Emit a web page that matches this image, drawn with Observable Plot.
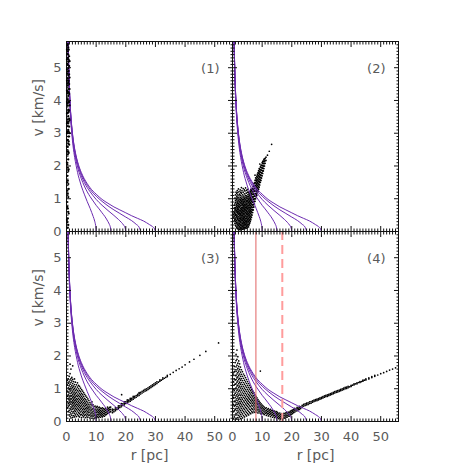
<!DOCTYPE html>
<html><head><meta charset="utf-8">
<script src="https://cdn.jsdelivr.net/npm/d3@7"></script>
<script src="https://cdn.jsdelivr.net/npm/@observablehq/plot@0.6"></script>
<style>
body{margin:0;background:#fff}#chart{width:463px;height:463px}
g[aria-label="ylabel"] text{letter-spacing:1.2px}
g[aria-label="xlabel"] text{letter-spacing:0.6px}
</style>
</head><body><div id="chart"></div>
<script>
// ---- data ----
const panelNames = ["(1)", "(2)", "(3)", "(4)"];
const panelCols = [0, 1, 0, 1];
const panelRows = [0, 0, 1, 1];
const xMajorTicks = [0, 10, 20, 30, 40, 50];
const yMajorTicks = [0, 1, 2, 3, 4, 5];
const xLabel = "r [pc]";
const yLabel = "v [km/s]";

// purple curves: flat [r, v, r, v, ...], each ends at v = 0 at its R
const curveR10 = [0.55,5.77, 0.6,5.51, 0.7,5.07, 0.8,4.72, 1,4.17, 1.25,3.68, 1.5,3.31, 2,2.78, 2.5,2.41, 3,2.13, 3.5,1.90, 4,1.70, 4.5,1.54, 5,1.39, 6,1.14, 7,0.91, 8,0.70, 8.5,0.58, 9,0.46, 9.5,0.32, 9.8,0.20, 9.95,0.10, 10,0];
const curveR15 = [0.55,5.82, 0.6,5.57, 0.7,5.13, 0.8,4.79, 1,4.25, 1.25,3.77, 1.5,3.41, 2,2.90, 2.5,2.54, 3,2.27, 4,1.88, 5,1.61, 6,1.39, 7,1.21, 8,1.06, 9,0.93, 10,0.80, 11,0.69, 12,0.57, 13,0.45, 14,0.30, 14.5,0.21, 14.85,0.11, 15,0];
const curveR20 = [0.55,5.85, 0.6,5.59, 0.7,5.17, 0.8,4.82, 1,4.29, 1.25,3.81, 1.5,3.46, 2,2.95, 2.5,2.60, 3,2.34, 4,1.97, 5,1.70, 6,1.50, 7,1.34, 8,1.21, 10,0.98, 12,0.80, 14,0.64, 16,0.49, 17.5,0.37, 18.5,0.28, 19.3,0.19, 19.8,0.10, 20,0];
const curveR25 = [0.55,5.87, 0.6,5.61, 0.7,5.18, 0.8,4.84, 1,4.31, 1.25,3.84, 1.5,3.48, 2,2.98, 2.5,2.64, 3,2.38, 4,2.02, 5,1.76, 6,1.57, 7,1.41, 8,1.28, 10,1.08, 12,0.92, 14,0.78, 16,0.66, 18,0.55, 20,0.44, 22,0.33, 23.5,0.22, 24.5,0.13, 25,0];
const curveR30 = [0.55,5.88, 0.6,5.62, 0.7,5.20, 0.8,4.85, 1,4.33, 1.25,3.85, 1.5,3.50, 2,3.01, 2.5,2.66, 3,2.41, 4,2.05, 5,1.80, 6,1.61, 7,1.46, 8,1.33, 10,1.14, 12,0.98, 14,0.86, 16,0.75, 18,0.66, 20,0.57, 22,0.48, 24,0.40, 26,0.32, 28,0.21, 29,0.15, 29.7,0.08, 30,0];
const curveRadii = [10, 15, 20, 25, 30];

// scatter clouds: each inner list is [r, v1, v2, ...]
const cloud1 = [
[0.15,5.55,5.25,4.95,4.6,4.3,3.95,3.6,3.3,3.0,2.6,2.1,1.5,0.9,0.35],
[0.3,5.68,5.42,5.12,4.82,4.52,4.22,3.9,3.62,3.34,3.05,2.78,2.45,2.05,1.7,1.25,0.75,0.28],
[0.45,5.72,5.5,5.3,5.08,4.88,4.66,4.45,4.26,4.04,3.84,3.63,3.42,3.22,3.0,2.8,2.58,2.35,1.95,1.55,1.15,0.7,0.4,0.12],
[0.6,5.62,5.4,5.18,4.98,4.76,4.55,4.35,4.14,3.94,3.72,3.52,3.3,3.1,2.9,2.68,2.45,2.2,1.85,1.45,1.05,0.6,0.2],
[0.75,5.55,5.25,4.9,4.6,4.25,3.95,3.65,3.35,3.05,2.75,2.4,1.9,1.3,0.55],
[0.9,5.35,5.05,4.8,4.5,4.2,3.95,3.7,3.45,3.2,2.9,2.65],
[1.05,5.2,4.7,4.35,3.85,3.4,3.0]
];
const cloud2 = [
[0.4,0.44,0.53,0.61],
[0.6,0.33,0.47,0.58,0.72,0.8],
[0.8,0.25,0.36,0.41,0.55,0.63,0.69,0.84,1.02],
[1.0,0.19,0.3,0.38,0.49,0.52,0.66,0.73,0.88,0.95,1.12],
[1.2,0.16,0.24,0.35,0.43,0.57,0.61,0.7,0.79,0.9,1.02,1.2],
[1.4,0.12,0.27,0.33,0.46,0.51,0.64,0.76,0.83,0.97,1.08,1.16],
[1.6,0.09,0.2,0.29,0.4,0.48,0.59,0.67,0.74,0.86,0.93,1.05,1.25],
[1.8,0.14,0.23,0.37,0.42,0.55,0.62,0.71,0.8,0.89,1.0,1.12,1.19],
[2.0,0.07,0.18,0.26,0.34,0.45,0.53,0.6,0.68,0.77,0.85,0.96,1.03,1.3],
[2.2,0.11,0.21,0.3,0.39,0.47,0.57,0.65,0.73,0.81,0.92,1.09,1.22],
[2.4,0.06,0.15,0.24,0.33,0.41,0.5,0.56,0.63,0.75,0.83,0.9,0.99,1.14],
[2.6,0.1,0.19,0.28,0.36,0.44,0.52,0.6,0.69,0.78,0.87,0.94,1.04,1.27],
[2.8,0.05,0.13,0.22,0.31,0.4,0.48,0.55,0.64,0.71,0.8,0.88,0.97,1.1,1.2],
[3.0,0.09,0.17,0.26,0.35,0.42,0.5,0.59,0.67,0.74,0.84,0.91,1.01,1.17,1.34],
[3.2,0.12,0.2,0.29,0.37,0.46,0.54,0.62,0.7,0.79,0.86,0.95,1.06,1.25],
[3.4,0.07,0.16,0.24,0.33,0.41,0.49,0.57,0.65,0.73,0.82,0.9,0.98,1.12],
[3.6,0.11,0.19,0.28,0.36,0.44,0.53,0.61,0.69,0.77,0.85,0.93,1.03,1.2,1.31],
[3.8,0.08,0.14,0.23,0.31,0.4,0.47,0.56,0.63,0.72,0.8,0.89,0.97,1.08],
[4.0,0.12,0.2,0.27,0.35,0.43,0.51,0.6,0.68,0.75,0.83,0.92,1.01,1.15,1.27],
[4.2,0.09,0.17,0.25,0.33,0.38,0.46,0.55,0.64,0.71,0.79,0.87,0.96,1.05,1.24],
[4.4,0.13,0.22,0.3,0.39,0.48,0.58,0.66,0.74,0.81,0.9,0.99,1.1,1.33],
[4.6,0.1,0.18,0.27,0.34,0.42,0.52,0.61,0.69,0.77,0.86,0.94,1.04,1.17],
[4.8,0.15,0.23,0.31,0.4,0.47,0.56,0.64,0.73,0.82,0.91,1.0,1.09,1.26],
[5.0,0.11,0.2,0.29,0.37,0.45,0.53,0.6,0.7,0.78,0.87,0.95,1.06,1.2],
[5.2,0.17,0.26,0.33,0.42,0.5,0.58,0.67,0.75,0.84,0.92,1.01,1.13,1.29],
[5.4,0.14,0.22,0.31,0.39,0.48,0.55,0.63,0.72,0.8,0.89,0.98,1.07,1.18],
[5.6,0.2,0.28,0.36,0.45,0.53,0.61,0.69,0.78,0.86,0.94,1.03,1.12,1.22],
[5.8,0.25,0.34,0.43,0.5,0.59,0.66,0.74,0.83,0.91,1.0,1.09,1.17],
[6.0,0.3,0.39,0.47,0.56,0.64,0.72,0.8,0.88,0.97,1.05,1.14,1.23],
[6.2,0.36,0.45,0.54,0.61,0.69,0.78,0.86,0.95,1.02,1.11,1.19,1.28],
[6.4,0.43,0.51,0.6,0.67,0.75,0.84,0.92,1.0,1.08,1.16,1.25,1.31],
[6.6,0.5,0.58,0.66,0.74,0.82,0.9,0.98,1.06,1.14,1.22,1.3],
[6.8,0.58,0.66,0.73,0.81,0.89,0.97,1.05,1.13,1.21,1.29,1.37],
[7.0,0.66,0.74,0.82,0.9,0.98,1.06,1.14,1.22,1.3,1.38],
[7.2,0.75,0.83,0.91,0.99,1.07,1.15,1.23,1.31,1.39,1.46],
[7.4,0.84,0.92,1.0,1.08,1.16,1.24,1.32,1.4,1.48],
[7.6,0.92,1.0,1.08,1.16,1.24,1.32,1.4,1.49,1.56,1.72],
[7.8,1.0,1.08,1.16,1.24,1.32,1.41,1.49,1.57,1.64],
[8.0,1.05,1.14,1.22,1.3,1.38,1.46,1.55,1.63],
[8.2,1.1,1.19,1.27,1.35,1.43,1.52,1.6,1.69],
[8.4,1.16,1.25,1.33,1.41,1.49,1.58,1.66,1.75],
[8.6,1.23,1.31,1.39,1.47,1.55,1.64,1.72,1.8],
[8.8,1.29,1.37,1.45,1.53,1.61,1.7,1.78,1.86],
[9.0,1.35,1.44,1.52,1.6,1.68,1.76,1.84,1.92],
[9.2,1.42,1.5,1.58,1.66,1.74,1.82,1.9,2.06],
[9.4,1.5,1.57,1.65,1.73,1.81,1.89,1.97],
[9.6,1.56,1.64,1.72,1.8,1.88,1.96,2.03],
[9.8,1.63,1.71,1.79,1.87,1.95,2.02],
[10.0,1.7,1.78,1.86,1.94,2.02,2.1],
[10.2,1.77,1.85,1.93,2.01,2.08,2.14],
[10.4,1.85,1.93,2.0,2.08,2.15],
[10.6,1.92,2.0,2.07,2.14,2.2],
[10.8,2.0,2.08,2.15,2.22],
[11.0,2.08,2.16,2.23],
[11.3,2.17,2.27],
[11.8,2.33],
[12.4,2.45],
[13.2,2.66]
];
const cloud3 = [
[0.3,0.42,0.6,0.77,0.93,1.12,1.26],
[0.6,0.3,0.45,0.55,0.69,0.81,0.9,1.03,1.17,1.3],
[0.9,0.2,0.34,0.49,0.58,0.66,0.75,0.87,0.98,1.09,1.21,1.38],
[1.2,0.16,0.28,0.4,0.53,0.62,0.71,0.8,0.93,1.01,1.14,1.27,1.46,1.75],
[1.5,0.11,0.23,0.36,0.45,0.57,0.67,0.77,0.86,0.96,1.06,1.19,1.31,1.6],
[1.8,0.19,0.31,0.42,0.51,0.6,0.7,0.79,0.89,1.0,1.1,1.24,1.35],
[2.1,0.13,0.26,0.38,0.47,0.56,0.64,0.74,0.83,0.93,1.04,1.16,1.29,1.7],
[2.4,0.18,0.3,0.41,0.5,0.59,0.68,0.77,0.87,0.97,1.08,1.22],
[2.7,0.14,0.25,0.35,0.45,0.54,0.63,0.72,0.81,0.9,1.01,1.13,1.3],
[3.0,0.2,0.31,0.4,0.49,0.58,0.66,0.75,0.85,0.95,1.06,1.2],
[3.35,0.15,0.26,0.36,0.45,0.53,0.62,0.7,0.79,0.89,0.99,1.12],
[3.7,0.21,0.32,0.41,0.5,0.58,0.67,0.76,0.84,0.94,1.05,1.18],
[4.05,0.17,0.27,0.37,0.46,0.54,0.62,0.71,0.8,0.9,1.0,1.1],
[4.4,0.14,0.24,0.33,0.42,0.5,0.58,0.67,0.76,0.85,0.95,1.07],
[4.75,0.2,0.29,0.38,0.46,0.55,0.63,0.72,0.81,0.91,1.02],
[5.1,0.12,0.22,0.32,0.41,0.5,0.59,0.68,0.77,0.86,0.97],
[5.45,0.18,0.27,0.36,0.45,0.54,0.63,0.72,0.82,0.93],
[5.8,0.14,0.23,0.31,0.4,0.49,0.58,0.67,0.77,0.88],
[6.15,0.19,0.28,0.36,0.45,0.54,0.62,0.71,0.83],
[6.5,0.12,0.22,0.31,0.4,0.49,0.57,0.67,0.78],
[6.85,0.17,0.26,0.35,0.43,0.52,0.62,0.74],
[7.2,0.13,0.22,0.3,0.39,0.47,0.57,0.69],
[7.55,0.18,0.27,0.35,0.43,0.52,0.64],
[7.9,0.11,0.2,0.29,0.38,0.47,0.58],
[8.25,0.16,0.24,0.33,0.42,0.53],
[8.6,0.1,0.19,0.28,0.37,0.48,0.6],
[8.95,0.15,0.23,0.31,0.4,0.51],
[9.3,0.09,0.18,0.26,0.35,0.45],
[9.65,0.13,0.21,0.29,0.38,0.47],
[10.0,0.11,0.19,0.27,0.34,0.43],
[10.35,0.15,0.22,0.3,0.38,0.46],
[10.7,0.12,0.2,0.27,0.34,0.42],
[11.05,0.16,0.23,0.3,0.37,0.44],
[11.4,0.13,0.2,0.27,0.34,0.41],
[11.75,0.17,0.24,0.31,0.39],
[12.1,0.14,0.21,0.28,0.35,0.42],
[12.45,0.18,0.25,0.32,0.39],
[12.8,0.16,0.23,0.3,0.37],
[13.15,0.2,0.27,0.34,0.41],
[13.5,0.22,0.29,0.36],
[13.85,0.25,0.31,0.38,0.44],
[14.2,0.27,0.34,0.4],
[14.55,0.29,0.36,0.43],
[14.9,0.3,0.37,0.44],
[15.5,0.27,0.33,0.38],[16,0.3,0.36],[16.5,0.33,0.38,0.42],[17,0.37,0.42],[17.5,0.39,0.44,0.48],
[18,0.43,0.48],[18.5,0.45,0.5,0.55],[18.6,0.82],[19,0.49,0.54],[19.5,0.51,0.56,0.6],[20,0.55,0.6],
[20.5,0.57,0.62,0.66],[21,0.6,0.65],[21.5,0.62,0.67,0.71],[22,0.66,0.71],[22.5,0.68,0.73,0.77],
[23,0.72,0.77],[23.5,0.74,0.79],[24,0.78,0.83],[24.5,0.8,0.85,0.88],[25,0.84,0.89],
[25.5,0.87,0.92],[26,0.9,0.95],[26.5,0.93,0.98],[27,0.95,1.0],[27.5,0.98,1.03],
[28,1.01,1.06],[28.5,1.04,1.09],[29,1.07,1.12],[29.5,1.1,1.15],[30,1.13,1.18],
[30.5,1.16,1.21],[31,1.2],[31.5,1.23,1.27],[32,1.26],[32.5,1.29,1.33],[33,1.32],
[33.5,1.35],[34,1.37,1.41],[35,1.44],[36,1.5],[37,1.56],[38,1.61],[39,1.66],
[40,1.73],[41.5,1.82],[43,1.9],[45,2.02],[47,2.14],[51.3,2.4]
];
const cloud4 = [
[0.3,0.08,0.3,0.52,0.74,0.98,1.22,1.45],
[0.6,0.14,0.33,0.47,0.62,0.81,0.95,1.12,1.3,1.52,1.68],
[0.9,0.05,0.2,0.36,0.49,0.6,0.73,0.86,1.0,1.14,1.27,1.41,1.58,1.8],
[1.2,0.1,0.25,0.4,0.53,0.65,0.78,0.9,1.03,1.15,1.28,1.4,1.53,1.67,1.86,2.05],
[1.5,0.07,0.2,0.33,0.46,0.58,0.7,0.82,0.95,1.08,1.2,1.33,1.45,1.58,1.72,1.9,2.18],
[1.8,0.12,0.27,0.39,0.52,0.63,0.75,0.87,0.99,1.11,1.24,1.36,1.49,1.62,1.78,1.98],
[2.1,0.06,0.19,0.32,0.44,0.56,0.68,0.8,0.92,1.04,1.16,1.29,1.41,1.54,1.68,1.85],
[2.4,0.14,0.26,0.38,0.5,0.61,0.72,0.84,0.96,1.08,1.2,1.32,1.45,1.59,1.76],
[2.7,0.09,0.21,0.33,0.45,0.56,0.67,0.79,0.9,1.02,1.14,1.26,1.38,1.51,1.66],
[3.0,0.16,0.28,0.4,0.51,0.62,0.73,0.84,0.96,1.07,1.19,1.31,1.44,1.58],
[3.35,0.11,0.23,0.35,0.46,0.57,0.68,0.79,0.9,1.01,1.13,1.25,1.38,1.52],
[3.7,0.18,0.3,0.41,0.52,0.63,0.74,0.85,0.96,1.07,1.19,1.32,1.45],
[4.05,0.14,0.26,0.37,0.48,0.59,0.7,0.8,0.91,1.02,1.14,1.26,1.4],
[4.4,0.21,0.32,0.43,0.54,0.65,0.75,0.86,0.97,1.09,1.21,1.34],
[4.75,0.17,0.28,0.39,0.5,0.6,0.7,0.81,0.92,1.04,1.16,1.28],
[5.1,0.24,0.35,0.46,0.56,0.66,0.76,0.87,0.98,1.1,1.22],
[5.45,0.2,0.31,0.42,0.52,0.62,0.72,0.82,0.93,1.04,1.16],
[5.8,0.27,0.38,0.48,0.58,0.68,0.78,0.88,0.99,1.1],
[6.15,0.24,0.35,0.45,0.55,0.64,0.74,0.84,0.94,1.04],
[6.5,0.3,0.4,0.5,0.6,0.69,0.79,0.89,0.98],
[6.85,0.27,0.37,0.47,0.56,0.65,0.75,0.85,0.93],
[7.2,0.32,0.42,0.51,0.6,0.7,0.79,0.88],
[7.55,0.28,0.38,0.47,0.56,0.65,0.74,0.82],
[7.9,0.33,0.42,0.51,0.6,0.69,0.77],
[8.25,0.29,0.38,0.47,0.56,0.64,0.72],
[8.6,0.26,0.35,0.43,0.52,0.6,0.67],
[8.95,0.3,0.38,0.47,0.55,0.62],
[9.3,0.26,0.34,0.43,0.51,0.58],
[9.4,1.54],
[9.65,0.23,0.31,0.39,0.47,0.54],
[10.0,0.27,0.35,0.43,0.5],
[10.35,0.24,0.32,0.39,0.47],
[10.7,0.21,0.29,0.36,0.44],
[11.05,0.25,0.32,0.4],
[11.4,0.19,0.27,0.34,0.42],
[11.75,0.23,0.3,0.37],
[12.1,0.17,0.25,0.32,0.39],
[12.45,0.21,0.28,0.35],
[12.8,0.15,0.23,0.3,0.37],
[13.15,0.19,0.26,0.33],
[13.5,0.13,0.21,0.28,0.34],
[13.85,0.17,0.24,0.31],
[14.2,0.12,0.19,0.26,0.32],
[14.55,0.15,0.22,0.29],
[14.9,0.1,0.17,0.24,0.3],
[15.25,0.13,0.2,0.27],
[15.6,0.09,0.16,0.23],
[15.95,0.12,0.19,0.26],
[16.3,0.08,0.15,0.22],
[16.65,0.11,0.18,0.24],
[17.0,0.09,0.16,0.23],
[17.35,0.12,0.19,0.25],
[17.7,0.1,0.17,0.24],
[18.05,0.14,0.2,0.27],
[18.4,0.13,0.19,0.26],
[18.75,0.17,0.23,0.29],
[19.1,0.16,0.22,0.28],
[19.45,0.2,0.26,0.31],
[19.8,0.21,0.27,0.33],
[20.2,0.24,0.3,0.35],
[20.6,0.27,0.32,0.37],
[21.0,0.29,0.35,0.4],
[21.4,0.32,0.37],
[21.8,0.33,0.39,0.43],
[22.2,0.36,0.41],
[22.6,0.37,0.42,0.46],
[23,0.4,0.45],
[23.5,0.44,0.49],[24,0.47,0.52],[24.5,0.49,0.54],[25,0.51,0.56],[25.5,0.52,0.57],
[26,0.55,0.6],[26.5,0.56,0.61],[27,0.59,0.63],[27.5,0.61,0.65],[28,0.63,0.67],
[28.5,0.64,0.68],[29,0.66,0.7],[29.5,0.68,0.72],[30,0.7,0.74],[30.5,0.72,0.76],
[31,0.74,0.78],[31.5,0.76,0.8],[32,0.77,0.81],[32.5,0.79,0.83],[33,0.81,0.85],
[33.5,0.83,0.87],[34,0.85,0.89],[34.5,0.87,0.91],[35,0.89,0.93],[35.5,0.9,0.94],
[36,0.92,0.96],[36.5,0.94,0.98],[37,0.96,1.0],[37.5,0.98,1.02],[38,1.0,1.04],
[38.5,1.01,1.05],[39,1.03,1.07],[39.5,1.06],[40,1.07,1.1],[40.5,1.11],[41,1.12,1.15],
[41.5,1.15],[42,1.15,1.18],[42.5,1.19],[43,1.19,1.22],[43.5,1.22],[44,1.23,1.26],
[44.5,1.26],[45,1.27,1.3],[46,1.3,1.33],[47,1.34,1.37],[48,1.38,1.41],[49,1.42],
[50,1.46],[51,1.49],[52,1.53],[53,1.57],[54,1.6],[55,1.64]
];
const solidLineR = [7.9];   // panel (4)
const dashedLineR = [16.8]; // panel (4)

// ---- build tables ----
const clouds = [cloud1, cloud2, cloud3, cloud4];
const curveArrays = [curveR10, curveR15, curveR20, curveR25, curveR30];
const points = [];
clouds.forEach((cols, p) => {
  for (const col of cols) for (let i = 1; i < col.length; i++)
    points.push({p, r: col[0], v: col[i], fx: panelCols[p], fy: panelRows[p]});
});
const pointsFirst = points.filter(d => d.p === 0);
const pointsOther = points.filter(d => d.p !== 0);
const curveRows = [];
for (let p = 0; p < 4; p++) curveArrays.forEach((arr, k) => {
  for (let i = 0; i < arr.length; i += 2)
    curveRows.push({R: curveRadii[k], r: arr[i], v: arr[i + 1], fx: panelCols[p], fy: panelRows[p]});
});
const panelLabelRows = panelNames.map((t, p) => ({t, fx: panelCols[p], fy: panelRows[p]}));
const yLabelRows = [{t: yLabel, fx: 0, fy: 0}, {t: yLabel, fx: 0, fy: 1}];
const xLabelRows = [{t: xLabel, fx: 0, fy: 1}, {t: xLabel, fx: 1, fy: 1}];
const solidRows = solidLineR.map(r => ({r, fx: 1, fy: 1}));
const dashedRows = dashedLineR.map(r => ({r, fx: 1, fy: 1}));

const xMinor = d3.range(0, 57).filter(d => d % 10 !== 0);
const yMinor = d3.range(0, 58).map(d => d / 10).filter((d, i) => i % 10 !== 0);
const none = () => "";
const tickStroke = "#111";
const tickAxes = [];
for (const [ticks, size] of [[xMajorTicks, -5], [xMinor, -2.5]]) {
  for (const anchor of ["top", "bottom"])
    tickAxes.push(Plot.axisX(ticks, {anchor, facetAnchor: null, tickSize: size, tickFormat: none, label: null, stroke: tickStroke}));
}
for (const [ticks, size] of [[yMajorTicks, -5], [yMinor, -2.5]]) {
  for (const anchor of ["left", "right"])
    tickAxes.push(Plot.axisY(ticks, {anchor, facetAnchor: null, tickSize: size, tickFormat: none, label: null, stroke: tickStroke}));
}

const chart = Plot.plot({
  width: 463,
  height: 463,
  marginLeft: 65,
  marginRight: 65,
  marginTop: 41,
  marginBottom: 42,
  style: {fontFamily: "DejaVu Sans", fontSize: "13px", color: "#5a5a5a", background: "#fff"},
  x: {domain: [0, 56]},
  y: {domain: [0, 5.8]},
  fx: {padding: 0, axis: null, domain: [0, 1]},
  fy: {padding: 0, axis: null, domain: [0, 1]},
  marks: [
    Plot.dot(pointsOther, {x: "r", y: "v", fx: "fx", fy: "fy", r: 0.85, fill: "#000"}),
    Plot.line(curveRows, {x: "r", y: "v", z: "R", fx: "fx", fy: "fy", stroke: "#6c2bb0", strokeWidth: 1, curve: "monotone-x", clip: true}),
    Plot.ruleX(solidRows, {x: "r", fx: "fx", fy: "fy", stroke: "#e06262", strokeWidth: 1}),
    Plot.ruleX(dashedRows, {x: "r", fx: "fx", fy: "fy", stroke: "#ff9c9c", strokeWidth: 2, strokeDasharray: "9,5"}),
    Plot.frame({stroke: tickStroke}),
    ...tickAxes,
    Plot.dot(pointsFirst, {x: "r", y: "v", fx: "fx", fy: "fy", r: 1.1, fill: "#000"}),
    Plot.axisX(xMajorTicks, {anchor: "bottom", facetAnchor: "bottom", tickSize: 0, tickPadding: 10, label: null}),
    Plot.axisY(yMajorTicks, {anchor: "left", facetAnchor: "left", tickSize: 0, tickPadding: 5, label: null}),
    Plot.text(panelLabelRows, {text: "t", fx: "fx", fy: "fy", frameAnchor: "top-right", dx: -13, dy: 27, lineAnchor: "middle", textAnchor: "end"}),
    Plot.text(yLabelRows, {text: "t", fx: "fx", fy: "fy", frameAnchor: "left", dx: -28, rotate: -90, fontSize: 14, ariaLabel: "ylabel"}),
    Plot.text(xLabelRows, {text: "t", fx: "fx", fy: "fy", frameAnchor: "bottom", dy: 34, lineAnchor: "middle", fontSize: 14, ariaLabel: "xlabel"})
  ]
});
document.getElementById("chart").append(chart);
</script>
</body></html>
